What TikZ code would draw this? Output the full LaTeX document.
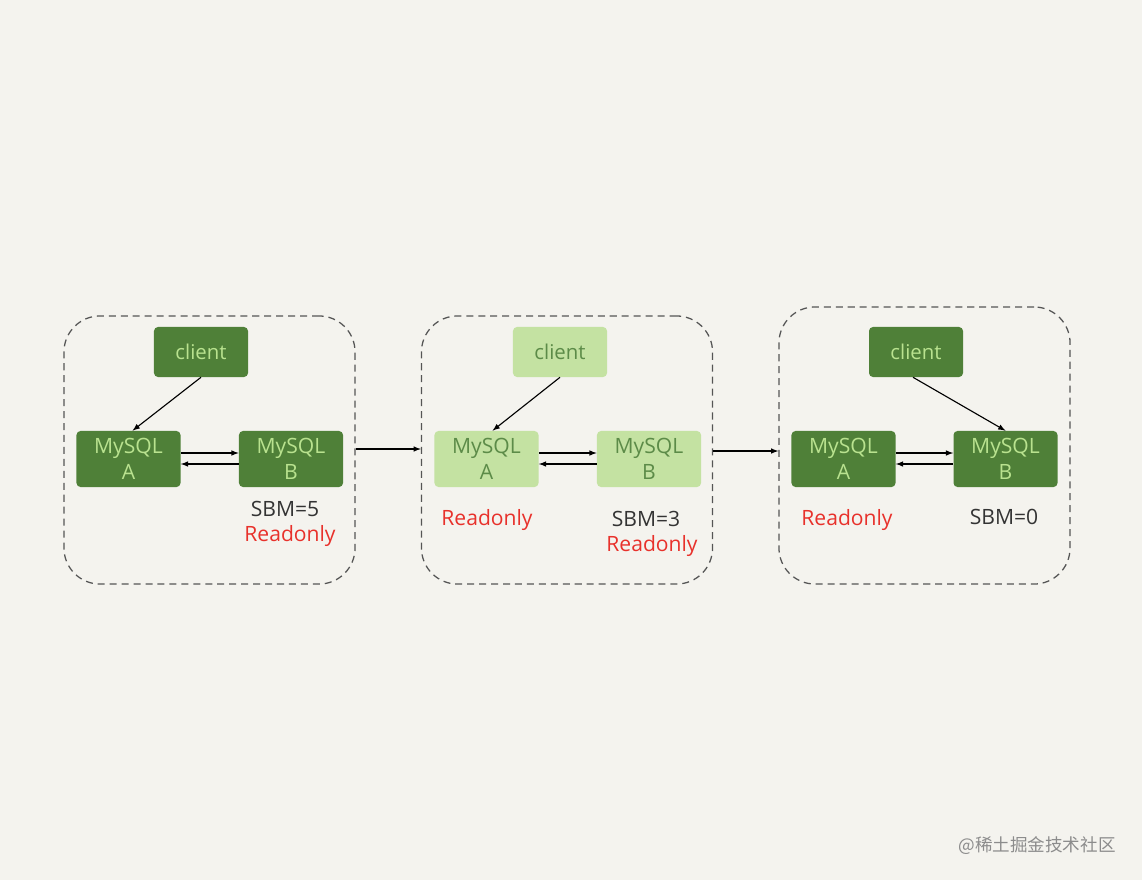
\documentclass[tikz,border=0pt]{standalone}
\usepackage{fontspec}
\setmainfont{Open Sans}
\newfontfamily\cjk{Noto Sans CJK SC}
\usetikzlibrary{arrows, positioning, calc}

\definecolor{bgpaper}{HTML}{F4F3EE}
\definecolor{darkbox}{HTML}{4F8038}
\definecolor{darktext}{HTML}{B9E28F}
\definecolor{lightbox}{HTML}{C4E2A2}
\definecolor{lighttext}{HTML}{5C8B48}
\definecolor{redtext}{HTML}{E8312B}
\definecolor{framegray}{HTML}{555555}

\tikzset{
  groupframe/.style={rectangle, draw=framegray, dash pattern=on 5pt off 3.5pt, line width=0.9pt, rounded corners=0.9cm, minimum width=7.275cm},
  clientbox/.style={rectangle, rounded corners=0.1cm, minimum width=2.35cm, minimum height=1.25cm, font=\fontsize{14.5}{17}\selectfont},
  dbbox/.style={rectangle, rounded corners=0.1cm, minimum width=2.6cm, minimum height=1.4cm, align=center, font=\fontsize{15}{18.5}\selectfont},
  darkfill/.style={fill=darkbox, text=darktext},
  lightfill/.style={fill=lightbox, text=lighttext},
  note/.style={font=\fontsize{15}{17}\selectfont, text=black!80},
  ronote/.style={font=\fontsize{15}{17}\selectfont, text=redtext},
  link/.style={-latex, line width=0.8pt, black}
}

\begin{document}
\begin{tikzpicture}[x=0.025cm, y=-0.025cm]
\fill[bgpaper] (0,0) rectangle (1142,880);
\useasboundingbox (0,0) rectangle (1142,880);

% Step 1: B lags behind
\node[groupframe, minimum height=6.7cm] (frame1) at (209.5,450) {};
\node[clientbox, darkfill] (client1) at (201,352) {client};
\node[dbbox, darkfill] (dba1) at (128.5,459) {MySQL\\A};
\node[dbbox, darkfill] (dbb1) at (291,459) {MySQL\\B};
\node[note] (sbm1) at (285,509) {SBM=5};
\node[ronote] (ro1b) at (290,536) {Readonly};
\draw[link] (client1.south) -- ($(dba1.north)+(4,0)$);
\draw[link] ($(dba1.east)+(0,-6)$) -- ($(dbb1.west)+(0,-6)$);
\draw[link] ($(dbb1.west)+(0,5)$) -- ($(dba1.east)+(0,5)$);

% Step 2: both readonly
\node[groupframe, minimum height=6.7cm] (frame2) at (567,450) {};
\node[clientbox, lightfill] (client2) at (560,352) {client};
\node[dbbox, lightfill] (dba2) at (486.5,459) {MySQL\\A};
\node[dbbox, lightfill] (dbb2) at (649,459) {MySQL\\B};
\node[ronote] (ro2a) at (487,520) {Readonly};
\node[note] (sbm2) at (646,519) {SBM=3};
\node[ronote] (ro2b) at (652,546) {Readonly};
\draw[link] (client2.south) -- ($(dba2.north)+(6,0)$);
\draw[link] ($(dba2.east)+(0,-6)$) -- ($(dbb2.west)+(0,-6)$);
\draw[link] ($(dbb2.west)+(0,5)$) -- ($(dba2.east)+(0,5)$);

% Step 3: switch to B
\node[groupframe, minimum height=6.925cm] (frame3) at (924.5,445.5) {};
\node[clientbox, darkfill] (client3) at (916,352) {client};
\node[dbbox, darkfill] (dba3) at (843.5,459) {MySQL\\A};
\node[dbbox, darkfill] (dbb3) at (1005.5,459) {MySQL\\B};
\node[ronote] (ro3a) at (847,520) {Readonly};
\node[note] (sbm3) at (1004,517) {SBM=0};
\draw[link] ($(client3.south)+(-3,0)$) -- (dbb3.north);
\draw[link] ($(dba3.east)+(0,-6)$) -- ($(dbb3.west)+(0,-6)$);
\draw[link] ($(dbb3.west)+(0,5)$) -- ($(dba3.east)+(0,5)$);

% between steps
\coordinate (out1) at ($(frame1.east)+(0,-1)$);
\coordinate (out2) at ($(frame2.east)+(0,1)$);
\draw[link] (out1) -- (out1 -| frame2.west);
\draw[link] (out2) -- (out2 -| frame3.west);

\node[font=\cjk\fontsize{12.5}{15}\selectfont, text=black!45] (mark) at (1037,846) {@稀土掘金技术社区};
\end{tikzpicture}
\end{document}
